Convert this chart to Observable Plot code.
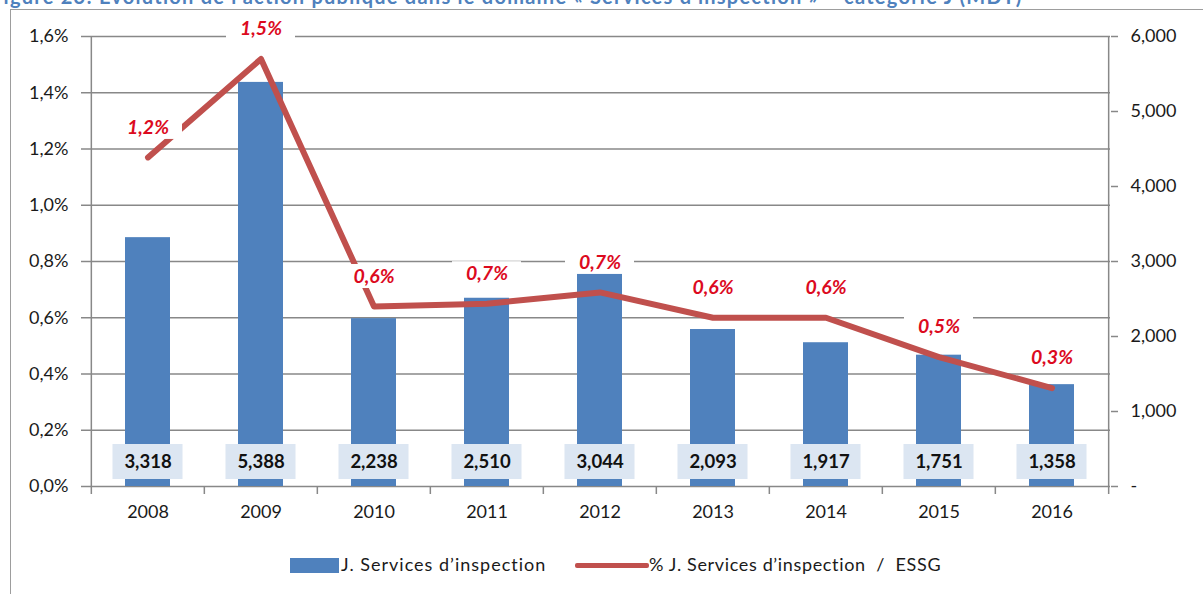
<!DOCTYPE html>
<html>
<head>
<meta charset="utf-8">
<script src="https://cdn.jsdelivr.net/npm/d3@7"></script>
<script src="https://cdn.jsdelivr.net/npm/@observablehq/plot@0.6"></script>
<style>
  html, body { margin: 0; padding: 0; background: #fff; }
  #wrap { position: relative; width: 1203px; height: 594px; overflow: hidden; font-family: Lato, "Open Sans", sans-serif; }
  #frame { position: absolute; left: 10px; top: 9px; width: 1400px; height: 800px; border-left: 1.5px solid #9d9d9d; border-top: 1.5px solid #9d9d9d; }
  #title { position: absolute; left: -9px; top: -14px; font-size: 20px; line-height: 20px; font-weight: bold; color: #4f81bd; white-space: nowrap; letter-spacing: 1.25px; }
  #chart { position: absolute; left: 0; top: 0; }
  #legend { position: absolute; top: 553px; left: 0; width: 1203px; height: 24px; font-size: 18px; color: #1a1a1a; }
  .sw { position: absolute; }
  .lt { position: absolute; top: 0; line-height: 22px; white-space: nowrap; }
</style>
</head>
<body>
<div id="wrap">
  <div id="frame"></div>
  <div id="title">Figure 23: Évolution de l’action publique dans le domaine « Services d’inspection » – catégorie J (MDT)</div>
  <div id="chart"></div>
  <div id="legend">
    <div class="sw" style="left:290px;top:5px;width:49px;height:15px;background:#4f81bd"></div>
    <div class="lt" style="left:341px;letter-spacing:1px">J. Services d’inspection</div>
    <div class="sw" style="left:575px;top:10px;width:74px;height:5px;background:#c0504d;border-radius:2px"></div>
    <div class="lt" style="left:649px;letter-spacing:0.65px">% J. Services d’inspection&nbsp; /&nbsp; ESSG</div>
  </div>
</div>
<script>
const years = ["2008","2009","2010","2011","2012","2013","2014","2015","2016"];
const inspection = [3318, 5388, 2238, 2510, 3044, 2093, 1917, 1751, 1358];
const sharePct = [1.17, 1.52, 0.64, 0.65, 0.69, 0.60, 0.60, 0.46, 0.35];
const shareLabels = ["1,2%","1,5%","0,6%","0,7%","0,7%","0,6%","0,6%","0,5%","0,3%"];
const inspectionLabels = ["3,318","5,388","2,238","2,510","3,044","2,093","1,917","1,751","1,358"];
const leftTicks = [0, 0.2, 0.4, 0.6, 0.8, 1.0, 1.2, 1.4, 1.6];
const rightTicks = [0, 1000, 2000, 3000, 4000, 5000, 6000];
const leftMax = 1.6;
const rightMax = 6000;

const data = years.map((year, i) => ({
  year, value: inspection[i], share: sharePct[i],
  shareLabel: shareLabels[i], valueLabel: inspectionLabels[i]
}));

const W = 1203, H = 530;
const mL = 90, mR = 93, mT = 36, mB = 44;
const step = (W - mL - mR) / years.length;
const toLeft = v => v * leftMax / rightMax;
const gridColor = "#888888";
const textColor = "#1a1a1a";

const chart = Plot.plot({
  width: W, height: H,
  marginLeft: mL, marginRight: mR, marginTop: mT, marginBottom: mB,
  style: { fontFamily: "Lato, 'Open Sans', sans-serif", fontSize: "18px", color: textColor, background: "transparent" },
  x: { domain: years, paddingInner: 0.6, paddingOuter: 0.3, axis: null },
  y: { domain: [0, leftMax], axis: null },
  marks: [
    Plot.ruleY(leftTicks, { stroke: gridColor, strokeWidth: 1.3 }),
    Plot.barY(data, { x: "year", y: d => toLeft(d.value), fill: "#4f81bd" }),
    // value label boxes
    Plot.barY(data, { x: "year", y1: 0, y2: 0, insetTop: -42, insetBottom: 7, insetLeft: -12.5, insetRight: -12.5, fill: "#dce6f2" }),
    Plot.text(data, { x: "year", y: 0, dy: -24.5, text: "valueLabel", fontSize: 18.5, fontWeight: "bold", fill: "#111" }),
    // left & right axis lines
    Plot.ruleX([years[0]], { x: d => d, dx: -step / 2, y1: 0, y2: leftMax, stroke: gridColor, strokeWidth: 1.5 }),
    Plot.ruleX([years[years.length - 1]], { x: d => d, dx: step / 2, y1: 0, y2: leftMax, stroke: gridColor, strokeWidth: 1.5 }),
    // x boundary ticks
    Plot.ruleX(years, { x: d => d, dx: -step / 2, y1: 0, y2: 0, insetBottom: -8, stroke: gridColor, strokeWidth: 1.5 }),
    Plot.ruleX([years[years.length - 1]], { x: d => d, dx: step / 2, y1: 0, y2: 0, insetBottom: -8, stroke: gridColor, strokeWidth: 1.5 }),
    // share line
    Plot.line(data, { x: "year", y: "share", stroke: "#c0504d", strokeWidth: 6, strokeLinejoin: "round" }),
    // share label boxes + labels
    Plot.barY(data, { x: "year", y1: "share", y2: "share", insetTop: -42, insetBottom: 18, insetLeft: -12, insetRight: -12, fill: "white" }),
    Plot.text(data, { x: "year", y: "share", dy: -30, text: "shareLabel", fontSize: 19.5, fontWeight: "bold", fontStyle: "italic", fill: "#dc0a1e" }),
    // axes
    Plot.axisY(leftTicks, { anchor: "left", tickSize: 9, tickPadding: 13, stroke: gridColor, strokeWidth: 1.5,
      tickFormat: d => d3.format(".1f")(d).replace(".", ",") + "%", fontSize: 18, fill: textColor, label: null }),
    Plot.axisY(rightTicks.map(toLeft), { anchor: "right", tickSize: 7, tickPadding: 13, stroke: gridColor, strokeWidth: 1.5,
      tickFormat: d => { const v = Math.round(d * rightMax / leftMax); return v === 0 ? "-" : d3.format(",")(v); }, fontSize: 18, fill: textColor, label: null }),
    Plot.axisX(years, { anchor: "bottom", tickSize: 0, tickPadding: 19, fontSize: 18, fill: textColor, label: null })
  ]
});
document.getElementById("chart").appendChild(chart);
</script>
</body>
</html>
